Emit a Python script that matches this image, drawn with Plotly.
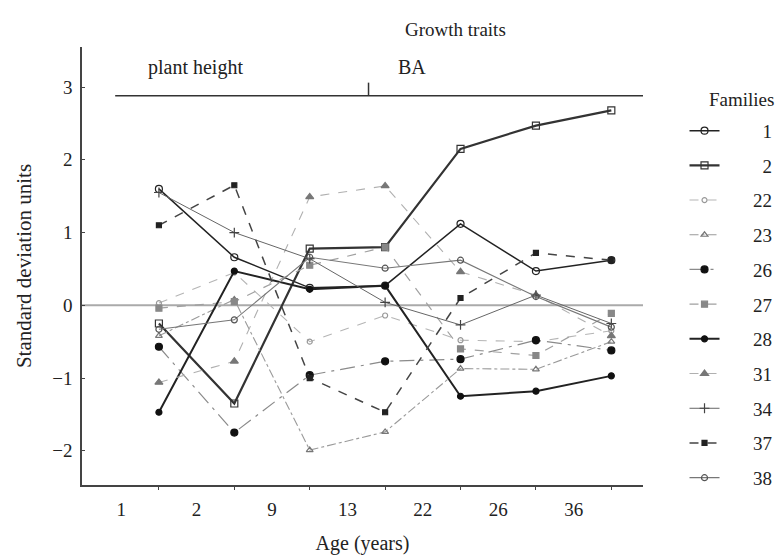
import plotly.graph_objects as go

# ---------------- data ----------------
age_labels = ["1", "2", "9", "13", "22", "26", "36"]
positions = [1, 2, 3, 4, 5, 6, 7]          # measurement positions (one per age group)
label_pos = [0.5, 1.5, 2.5, 3.5, 4.5, 5.5, 6.5]

families = ["1", "2", "22", "23", "26", "27", "28", "31", "34", "37", "38"]

f1  = [1.60, 0.66, 0.24, 0.27, 1.12, 0.47, 0.62]
f2  = [-0.25, -1.35, 0.78, 0.80, 2.15, 2.47, 2.68]
f22 = [0.03, 0.45, -0.50, -0.14, -0.48, -0.50, -0.35]
f23 = [-0.42, 0.08, -1.99, -1.74, -0.87, -0.88, -0.50]
f26 = [-0.57, -1.75, -0.96, -0.77, -0.74, -0.48, -0.62]
f27 = [-0.04, 0.05, 0.55, 0.80, -0.60, -0.69, -0.11]
f28 = [-1.47, 0.47, 0.22, 0.27, -1.25, -1.18, -0.97]
f31 = [-1.06, -0.77, 1.49, 1.64, 0.46, 0.14, -0.42]
f34 = [1.55, 1.00, 0.64, 0.04, -0.27, 0.14, -0.25]
f37 = [1.10, 1.65, -1.00, -1.47, 0.10, 0.72, 0.62]
f38 = [-0.33, -0.20, 0.66, 0.51, 0.62, 0.12, -0.30]

values = [f1, f2, f22, f23, f26, f27, f28, f31, f34, f37, f38]

# ---------------- styles ----------------
styles = {
    "1":  dict(color="#222", dash="solid", width=1.5, symbol="circle-open", msize=7, mcolor="#222"),
    "2":  dict(color="#333", dash="solid", width=2.2, symbol="square-open", msize=7, mcolor="#333"),
    "22": dict(color="#b5b5b5", dash="dash", width=1.1, symbol="circle-open", msize=5, mcolor="#999"),
    "23": dict(color="#9a9a9a", dash="dashdot", width=1.1, symbol="triangle-up-open", msize=6, mcolor="#777"),
    "26": dict(color="#8a8a8a", dash="longdashdot", width=1.2, symbol="circle", msize=7, mcolor="#111"),
    "27": dict(color="#a0a0a0", dash="dash", width=1.2, symbol="square", msize=6, mcolor="#888"),
    "28": dict(color="#222", dash="solid", width=2.0, symbol="circle", msize=6, mcolor="#111"),
    "31": dict(color="#b0b0b0", dash="dash", width=1.1, symbol="triangle-up", msize=7, mcolor="#777"),
    "34": dict(color="#666", dash="solid", width=1.0, symbol="cross-thin-open", msize=7, mcolor="#444"),
    "37": dict(color="#444", dash="dash", width=1.5, symbol="square", msize=5, mcolor="#222"),
    "38": dict(color="#777", dash="solid", width=1.1, symbol="circle-open", msize=6, mcolor="#555"),
}

FONT = "Liberation Serif"
FS = "\u2007"  # figure space, used to right-align legend labels

def legend_label(name):
    return FS * (5 - len(name)) + name

fig = go.Figure()
for name, ys in zip(families, values):
    s = styles[name]
    fig.add_trace(go.Scatter(
        x=positions, y=ys, name=legend_label(name), mode="lines+markers",
        legendgroup=name,
        line=dict(color=s["color"], dash=s["dash"], width=s["width"]),
        marker=dict(symbol=s["symbol"], size=s["msize"], color=s["mcolor"],
                    line=dict(color=s["mcolor"], width=1.2)),
    ))

# decorations: trait bar at the top
bar_y = 2.88
bar_x0, bar_x1 = 0.42, 7.42
divider_x = 3.78
fig.add_shape(type="line", x0=bar_x0, x1=bar_x1, y0=bar_y, y1=bar_y,
              line=dict(color="#333", width=1.5))
fig.add_shape(type="line", x0=divider_x, x1=divider_x, y0=bar_y, y1=3.06,
              line=dict(color="#333", width=1.5))
fig.add_shape(type="line", x0=-0.02, x1=bar_x1, y0=0, y1=0,
              line=dict(color="#aaaaaa", width=2), layer="below")

fig.add_annotation(x=1.48, y=3.27, text="plant height", showarrow=False,
                   font=dict(family=FONT, size=20, color="#222"))
fig.add_annotation(x=4.36, y=3.27, text="BA", showarrow=False,
                   font=dict(family=FONT, size=20, color="#222"))
fig.add_annotation(x=0.665, y=1.0, xref="paper", yref="paper", yanchor="bottom",
                   yshift=5, text="Growth traits", showarrow=False,
                   font=dict(family=FONT, size=19, color="#222"))
# legend heading
fig.add_annotation(x=1.175, y=0.879, xref="paper", yref="paper", xanchor="center",
                   yanchor="middle", text="Families", showarrow=False,
                   font=dict(family=FONT, size=19, color="#222"))

fig.update_layout(
    width=784, height=557,
    margin=dict(l=74, r=149, t=39, b=80, autoexpand=False),
    paper_bgcolor="white", plot_bgcolor="white",
    font=dict(family=FONT, size=18, color="#222"),
    showlegend=True,
    legend=dict(
        x=1.074, y=0.852, xanchor="left", yanchor="top",
        font=dict(family=FONT, size=19),
        tracegroupgap=7, bgcolor="rgba(0,0,0,0)",
    ),
    xaxis=dict(
        range=[-0.02, 7.42], showgrid=False, zeroline=False, automargin=False,
        showline=True, linecolor="#444", linewidth=1.5,
        tickmode="array", tickvals=label_pos, ticktext=age_labels,
        ticks="", tickfont=dict(family=FONT, size=19), ticklabelstandoff=6,
        minor=dict(tickmode="array", tickvals=positions, ticks="outside",
                   ticklen=3, tickcolor="#444"),
        title=dict(text="Age (years)", font=dict(family=FONT, size=20), standoff=17),
    ),
    yaxis=dict(
        range=[-2.47, 3.55], showgrid=False, zeroline=False, automargin=False,
        showline=True, linecolor="#444", linewidth=1.5,
        tickmode="array", tickvals=[-2, -1, 0, 1, 2, 3],
        ticks="inside", ticklen=3, tickcolor="#444",
        tickfont=dict(family=FONT, size=19), ticklabelstandoff=4,
        title=dict(text="Standard deviation units", font=dict(family=FONT, size=21), standoff=15),
    ),
)

fig.write_html("out.html")
